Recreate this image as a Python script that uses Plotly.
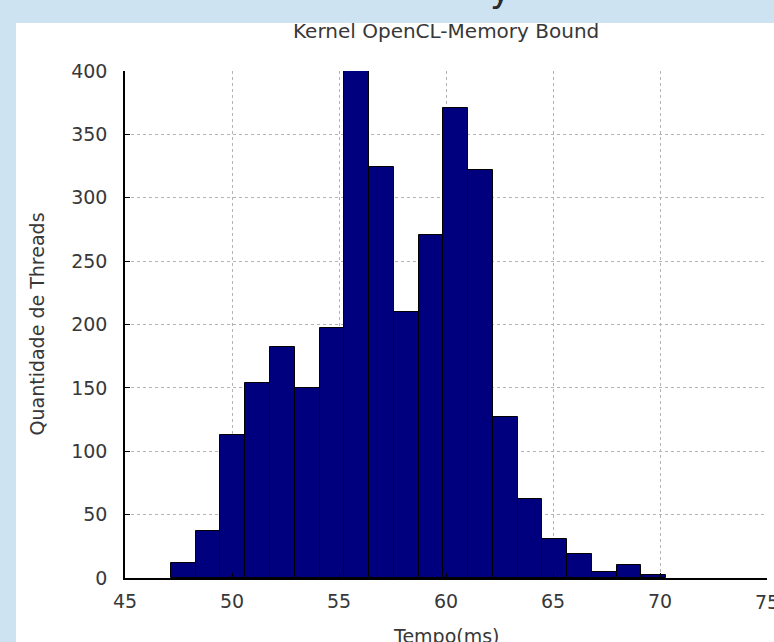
import plotly.graph_objects as go

# Histogram data
bin_edges = [47.15, 48.31, 49.46, 50.62, 51.78, 52.94, 54.09, 55.25, 56.41, 57.56,
             58.72, 59.88, 61.03, 62.19, 63.35, 64.50, 65.66, 66.82, 67.98, 69.13, 70.29]
counts = [12, 37, 113, 154, 182, 150, 197, 400, 324, 210,
          271, 371, 322, 127, 62, 31, 19, 5, 10, 2]

x_ticks = [45, 50, 55, 60, 65, 70, 75]
y_ticks = [0, 50, 100, 150, 200, 250, 300, 350, 400]

title_text = "Kernel OpenCL-Memory Bound"
x_label = "Tempo(ms)"
y_label = "Quantidade de Threads"

lefts = bin_edges[:-1]
widths = [b - a for a, b in zip(bin_edges[:-1], bin_edges[1:])]

FONT = "DejaVu Sans"
TXT = "#383838"
BLUE = "#cee3f1"

fig = go.Figure()
fig.add_trace(go.Bar(
    x=lefts, y=counts, width=widths, offset=0,
    marker=dict(color="#00007f", line=dict(color="#000000", width=1)),
    showlegend=False,
))

L, R, T, B = 125, 7, 71, 64
W, H = 774, 642
pw, ph = W - L - R, H - T - B

def px_x(p):
    return (p - L) / pw

def px_y(p):
    return 1 - (p - T) / ph

# the last tick label sits at the figure edge; draw it as an annotation so it is not dropped
edge_tick = x_ticks[-1]
tick_text = [str(v) if v != edge_tick else "" for v in x_ticks]

fig.update_layout(
    width=W, height=H,
    margin=dict(l=L, r=R, t=T, b=B, pad=0),
    paper_bgcolor=BLUE,
    plot_bgcolor="#ffffff",
    font=dict(family=FONT, color=TXT, size=19),
    bargap=0,
    xaxis=dict(
        range=[45, 75], tickvals=x_ticks, ticktext=tick_text,
        showgrid=True, gridcolor="#b4b4b4", griddash="dot", gridwidth=1,
        showline=True, linecolor="#000000", linewidth=1.5,
        ticks="inside", ticklen=5, tickcolor="#000000",
        zeroline=False, fixedrange=True,
        tickfont=dict(size=19, color=TXT, family=FONT),
        ticklabelstandoff=5,
    ),
    yaxis=dict(
        range=[0, 400], tickvals=y_ticks, ticktext=[str(v) for v in y_ticks],
        showgrid=True, gridcolor="#b4b4b4", griddash="dot", gridwidth=1,
        showline=True, linecolor="#000000", linewidth=1.5,
        ticks="inside", ticklen=5, tickcolor="#000000",
        zeroline=False, fixedrange=True,
        tickfont=dict(size=19, color=TXT, family=FONT),
        ticklabelstandoff=12,
    ),
    shapes=[
        dict(type="rect", xref="paper", yref="paper",
             x0=px_x(16), x1=px_x(790), y0=px_y(700), y1=px_y(23),
             fillcolor="#ffffff", line=dict(width=0), layer="below"),
    ],
    annotations=[
        dict(text=title_text, xref="paper", yref="paper", x=0.5, y=px_y(17),
             xanchor="center", yanchor="top", showarrow=False,
             font=dict(size=20, color=TXT, family=FONT)),
        dict(text=x_label, xref="paper", yref="paper", x=0.5, y=px_y(623),
             xanchor="center", yanchor="top", showarrow=False,
             font=dict(size=19, color=TXT, family=FONT)),
        dict(text=y_label, xref="paper", yref="paper", x=px_x(36), y=0.5,
             xanchor="center", yanchor="middle", showarrow=False, textangle=-90,
             font=dict(size=19, color=TXT, family=FONT)),
        dict(text=str(edge_tick), xref="x", yref="paper", x=edge_tick, y=px_y(589),
             xanchor="center", yanchor="top", showarrow=False,
             font=dict(size=19, color=TXT, family=FONT)),
        dict(text="y", xref="paper", yref="paper", x=px_x(500), y=px_y(12),
             xanchor="center", yanchor="bottom", showarrow=False,
             font=dict(size=36, color="#2a2a2a", family=FONT)),
    ],
)

fig.write_html(
    "out.html",
    config={"displayModeBar": False},
    post_script="document.body.style.margin='0';document.body.style.background='" + BLUE + "';",
)
